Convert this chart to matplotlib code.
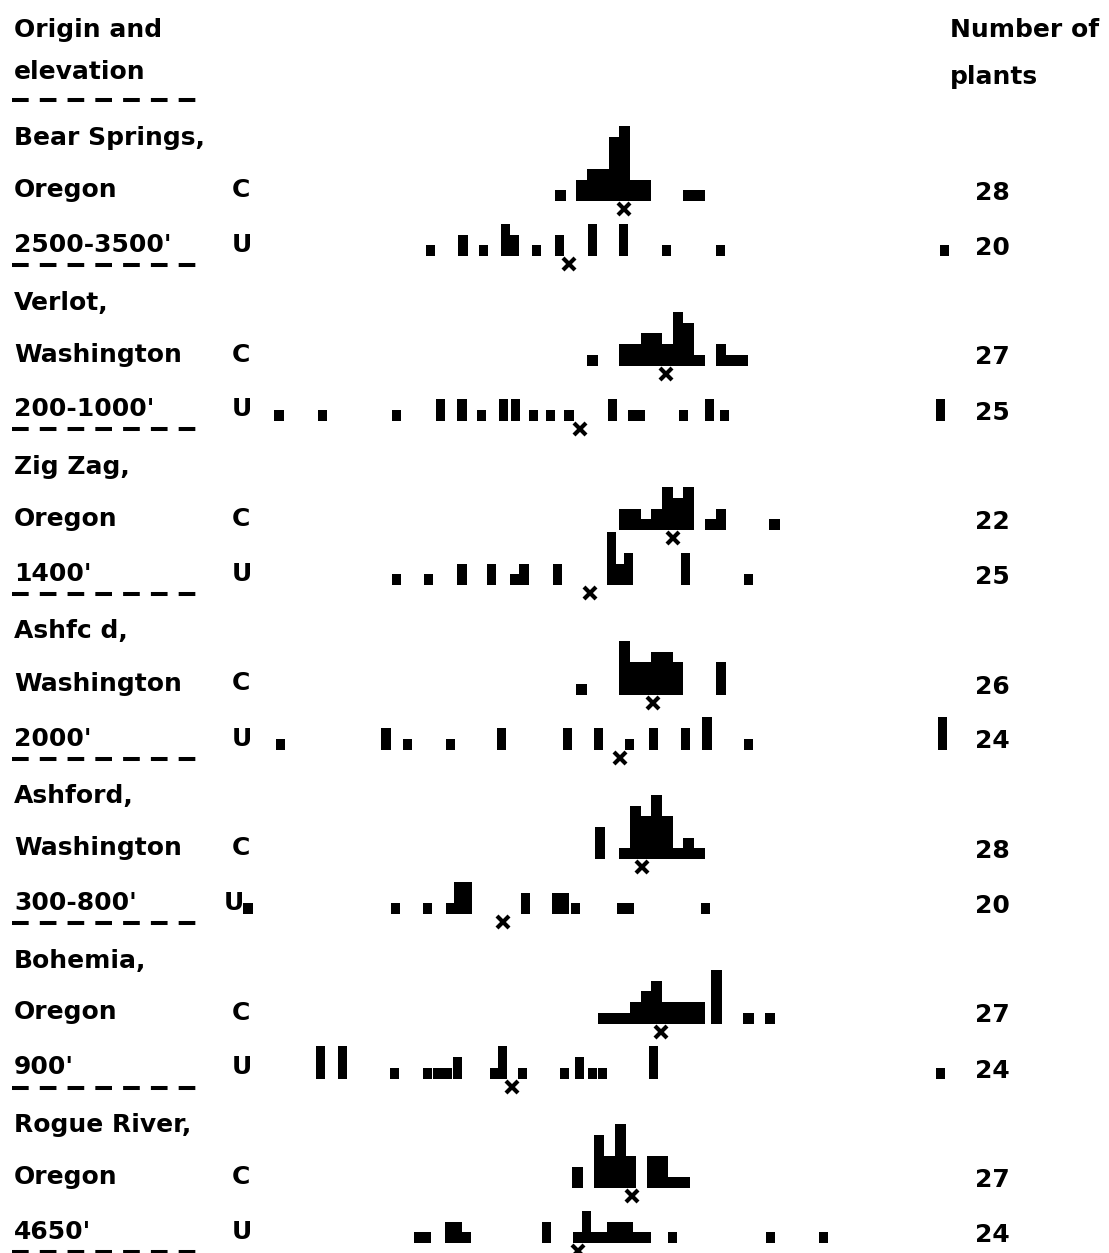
import numpy as np
import matplotlib.pyplot as plt

plt.rcParams['font.family'] = 'DejaVu Sans'
plt.rcParams['font.weight'] = 'bold'
plt.rcParams['lines.scale_dashes'] = False

sites = ['Bear Springs,', 'Verlot,', 'Zig Zag,', 'Ashfc d,', 'Ashford,', 'Bohemia,', 'Rogue River,']
states = ['Oregon', 'Washington', 'Oregon', 'Washington', 'Washington', 'Oregon', 'Oregon']
elevations = ["2500-3500'", "200-1000'", "1400'", "2000'", "300-800'", "900'", "4650'"]
n_c = [28, 27, 22, 26, 28, 27, 27]
n_u = [20, 25, 25, 24, 20, 24, 24]

# (class position, number of plants)
bear_c = [(12, 1), (14, 2), (15, 3), (16, 3), (17, 6), (18, 7), (19, 2), (20, 2), (24, 1), (25, 1)]
bear_u = [(-0.1, 1), (2.9, 2), (4.8, 1), (6.9, 3), (7.7, 2), (9.8, 1), (11.9, 2), (15.0, 3),
          (17.9, 3), (21.9, 1), (27.0, 1), (47.9, 1)]
verlot_c = [(15, 1), (18, 2), (19, 2), (20, 3), (21, 3), (22, 2), (23, 5), (24, 4), (25, 1),
            (27, 2), (28, 1), (29, 1)]
verlot_u = [(-14.3, 1), (-10.2, 1), (-3.3, 1), (0.8, 2), (2.8, 2), (4.6, 1), (6.7, 2), (7.8, 2),
            (9.5, 1), (11.1, 1), (12.8, 1), (16.9, 2), (18.7, 1), (19.5, 1), (23.5, 1),
            (25.9, 2), (27.3, 1), (47.5, 2)]
zig_c = [(18, 2), (19, 2), (20, 1), (21, 2), (22, 4), (23, 3), (24, 4), (26, 1), (27, 2), (32, 1)]
zig_u = [(-3.3, 1), (-0.3, 1), (2.8, 2), (5.6, 2), (7.7, 1), (8.6, 2), (11.7, 2), (16.8, 5),
         (17.6, 2), (18.4, 3), (23.7, 3), (29.6, 1)]
ashfc_c = [(14, 1), (18, 5), (19, 3), (20, 3), (21, 4), (22, 4), (23, 3), (27, 3)]
ashfc_u = [(-14.2, 1), (-4.3, 2), (-2.3, 1), (1.7, 1), (6.5, 2), (12.7, 2), (15.6, 2), (18.5, 1),
           (20.7, 2), (23.7, 2), (25.7, 3), (29.6, 1), (47.7, 3)]
ashford_c = [(15.7, 3), (18, 1), (19, 5), (20, 4), (21, 6), (22, 4), (23, 1), (24, 2), (25, 1)]
ashford_u = [(-17.2, 1), (-3.4, 1), (-0.4, 1), (1.7, 1), (2.5, 3), (3.3, 3), (8.7, 2), (11.6, 2),
             (12.4, 2), (13.4, 1), (17.7, 1), (18.5, 1), (25.6, 1)]
bohemia_c = [(16, 1), (17, 1), (18, 1), (19, 2), (20, 3), (21, 4), (22, 2), (23, 2), (24, 2),
             (25, 2), (26.6, 5), (29.6, 1), (31.6, 1)]
bohemia_u = [(-10.4, 3), (-8.4, 3), (-3.5, 1), (-0.4, 1), (0.5, 1), (1.4, 1), (2.4, 2), (5.8, 1),
             (6.6, 3), (8.5, 1), (12.4, 1), (13.8, 2), (15.0, 1), (15.9, 1), (20.7, 3), (47.5, 1)]
rogue_c = [(13.6, 2), (15.6, 5), (16.6, 3), (17.6, 6), (18.6, 3), (20.6, 3), (21.6, 3),
           (22.6, 1), (23.6, 1)]
rogue_u = [(-1.3, 1), (-0.5, 1), (1.6, 2), (2.4, 2), (3.2, 1), (10.7, 2), (13.6, 1), (14.4, 3),
           (15.2, 1), (16.0, 1), (16.8, 2), (17.6, 2), (18.4, 2), (19.2, 1), (20.0, 1),
           (22.5, 1), (31.6, 1), (36.6, 1)]

mean_c = [17.9, 21.9, 22.5, 20.7, 19.6, 21.4, 18.7]
mean_u = [12.8, 13.8, 14.8, 17.6, 6.6, 7.5, 13.6]

hist_c = [bear_c, verlot_c, zig_c, ashfc_c, ashford_c, bohemia_c, rogue_c]
hist_u = [bear_u, verlot_u, zig_u, ashfc_u, ashford_u, bohemia_u, rogue_u]

W, H = 1109, 1253
px0, cell = 432, 10.7   # class 0 centre and one class / one plant in pixels

fig = plt.figure(figsize=(W / 100, H / 100), dpi=100)
ax = fig.add_axes([0, 0, 1, 1])
ax.set_xlim((0 - px0) / cell, (W - px0) / cell)
ax.set_ylim(0, H / cell)
ax.axis('off')


def ftext(x, y, s, **kw):
    fig.text(x / W, 1 - y / H, s, fontsize=18, fontweight='bold', va='center', **kw)


def dashes(y):
    ax.plot([12 / W, 197 / W], [1 - y / H, 1 - y / H], transform=fig.transFigure,
            color='black', lw=2.9, dashes=(12, 8), solid_capstyle='butt',
            dash_capstyle='butt')


ftext(14, 30, 'Origin and')
ftext(14, 72, 'elevation')
ftext(950, 30, 'Number of')
ftext(950, 77, 'plants')
dashes(100)

for i in range(7):
    top = 138 + 164.5 * i
    ftext(14, top, sites[i])
    ftext(14, top + 52, states[i])
    ftext(14, top + 107, elevations[i])
    ftext(232, top + 52, 'C')
    ftext(224 if i == 4 else 232, top + 107, 'U')
    ftext(1010, top + 55, str(n_c[i]), ha='right')
    ftext(1010, top + 110, str(n_u[i]), ha='right')
    dashes(top + 127)

    base_c = (H - (top + 63)) / cell
    base_u = (H - (top + 118)) / cell
    xc, hc = zip(*hist_c[i])
    xu, hu = zip(*hist_u[i])
    ax.bar(xc, hc, width=1.0, bottom=base_c, color='black', linewidth=0)
    ax.bar(xu, hu, width=0.85, bottom=base_u, color='black', linewidth=0)
    ax.plot(mean_c[i], base_c - 0.75, marker='x', ms=9, mew=3, color='black')
    ax.plot(mean_u[i], base_u - 0.75, marker='x', ms=9, mew=3, color='black')

fig.savefig('out.png', dpi=100)
